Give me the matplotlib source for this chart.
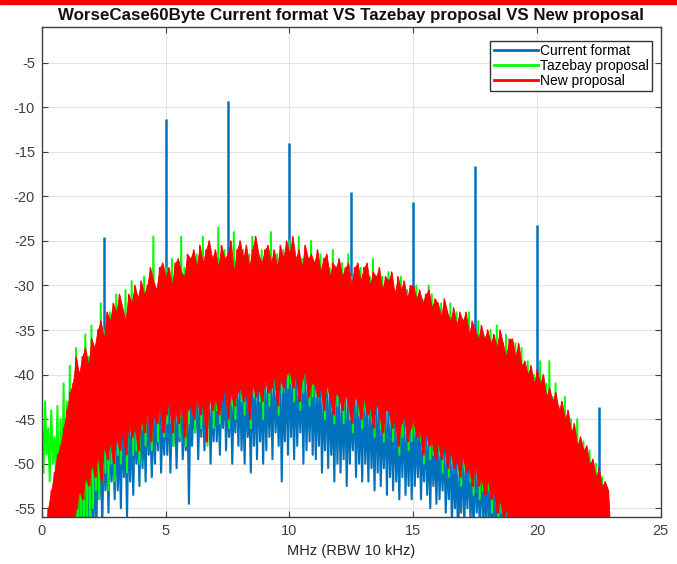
import numpy as np
import matplotlib
matplotlib.use("Agg")
import matplotlib.pyplot as plt
from matplotlib.patches import Rectangle

# spectrum, one value every 0.125 MHz (0 .. 23 MHz),
# one row per MHz. *_hi = spike tops, *_lo = spike bottoms (dB); -60 = off the axis
freq_mhz = np.arange(185) * 0.125

red_hi = [
    -60, -60, -55, -53, -51, -49, -48, -46,
    -44, -42, -41, -38, -40, -38, -37, -39,
    -36, -37, -35, -34, -36, -33, -34, -32,
    -33, -31, -32.5, -34, -31, -32, -30, -31.5,
    -29.5, -31, -30, -28, -29.5, -30.5, -28, -27.5,
    -29, -28, -30, -27.5, -27, -28.5, -29, -26.5,
    -27, -26, -28, -25.5, -27.5, -26, -25, -27,
    -26, -28, -25.5, -27, -26.5, -25, -28.5, -26,
    -25, -27, -25.5, -28, -26, -24.5, -26.5, -27.5,
    -26, -25.5, -27.5, -26, -28, -25.5, -27, -25,
    -26.5, -24.5, -27, -26, -28, -25.5, -27, -26.5,
    -27.5, -26, -28.5, -27, -26.5, -29, -27.5, -28,
    -27, -29, -28, -27.5, -30, -28, -27.5, -29.5,
    -28, -27.5, -30, -28.5, -29, -28, -30.5, -29,
    -29.5, -28.5, -31, -29, -30.5, -29.5, -31.5, -30,
    -30, -31.5, -30.5, -32, -31, -30.5, -32.5, -31.5,
    -32, -33.5, -31.5, -33, -34, -32.5, -34.5, -33,
    -34, -33, -35.5, -34, -35, -36, -34.5, -36,
    -35, -36.5, -35.5, -37, -35, -36.5, -38, -36,
    -36, -38, -36.5, -39, -38.5, -40, -39, -41,
    -39.5, -41, -40, -42.5, -41.5, -43, -42, -44,
    -43, -45, -44, -46.5, -45.5, -48, -47, -48.5,
    -48, -50, -49.5, -51.5, -50.5, -52.5, -52, -53,
    -60,
]
red_lo = [
    -60, -60, -60, -60, -60, -60, -60, -60,
    -60, -58, -57, -55, -53, -54, -51.5, -52.5,
    -50, -51.5, -49, -52, -48, -49.5, -47.5, -50,
    -47, -48.5, -46.5, -49, -45.5, -47, -46, -48.5,
    -45, -46.5, -44, -47.5, -44.5, -45.5, -43.5, -46.5,
    -44.5, -43, -46.5, -44, -45.5, -43, -47, -44,
    -43.5, -45, -42.5, -44.5, -43, -47.5, -42.5, -44,
    -42.5, -44.5, -43, -41.5, -45, -42, -43.5, -42,
    -41.5, -43, -42, -45, -41, -42.5, -41.5, -43,
    -40.5, -42, -41.5, -40, -43.5, -40.5, -41.5, -40,
    -39.5, -41.5, -40, -43, -40.5, -39.5, -42.5, -41,
    -41, -42.5, -41.5, -44, -41, -42.5, -44.5, -42,
    -42.5, -44, -42, -43.5, -45.5, -42.5, -43, -45,
    -42.5, -44.5, -43.5, -46, -43, -44.5, -46.5, -44,
    -44, -46, -45, -48, -45.5, -44.5, -47.5, -46,
    -45, -47, -46, -49, -46.5, -48, -47.5, -49.5,
    -47.5, -49.5, -48, -50.5, -48.5, -50.5, -49.5, -51.5,
    -49, -51, -50.5, -52.5, -50, -52.5, -51.5, -53.5,
    -51.5, -54, -53, -55.5, -54, -56, -55, -57.5,
    -56, -58, -60, -60, -60, -60, -60, -60,
    -60, -60, -60, -60, -60, -60, -60, -60,
    -60, -60, -60, -60, -60, -60, -60, -60,
    -60, -60, -60, -60, -60, -60, -60, -60,
    -60,
]

green_hi = [
    -45, -43, -46, -44, -47, -43.5, -45, -41,
    -43, -39, -42, -37, -40, -39, -35.5, -38,
    -34.5, -38, -36, -32, -35, -34.5, -33, -35,
    -31, -33, -34, -30.5, -32, -29.5, -31.5, -32,
    -31, -29, -31.5, -29.5, -24.5, -31, -29, -28.5,
    -28, -29.5, -27, -29, -28.5, -24.5, -28, -27.5,
    -28, -27.5, -26.5, -27, -24.5, -27, -26.5, -28,
    -27, -23.5, -27, -26, -27.5, -26.5, -24, -27,
    -26.5, -26, -27, -26.5, -24.5, -26, -28, -26,
    -27, -26.5, -24, -27.5, -26.5, -27, -26, -27.5,
    -25, -26.5, -28, -24.5, -27, -26.5, -28.5, -25,
    -28.5, -27.5, -26.5, -28.5, -27.5, -28, -26, -29,
    -28.5, -27.5, -29, -26.5, -29, -29.5, -28.5, -28,
    -29.5, -28.5, -29, -27, -30, -29.5, -29, -30.5,
    -28.5, -30, -30.5, -31, -29, -31, -30.5, -32,
    -31.5, -30, -31.5, -31.5, -33, -30, -31, -33,
    -33, -32, -33, -34.5, -32, -34, -33, -35,
    -35, -34.5, -33, -35.5, -36.5, -34, -36, -37,
    -36, -35, -37, -34.5, -36.5, -38, -35.5, -37.5,
    -37.5, -36.5, -38.5, -37, -40, -38.5, -41, -40,
    -40.5, -38.5, -41.5, -41, -38.5, -42.5, -41, -43.5,
    -44.5, -42.5, -45.5, -45, -47.5, -45, -49, -47.5,
    -49.5, -48.5, -51, -50, -52.5, -51.5, -54, -55,
    -60,
]
green_lo = [
    -51, -49, -52, -50, -51, -54, -52, -57,
    -60, -60, -60, -60, -58, -60, -57, -58,
    -55, -53, -54, -52, -51, -53, -50, -52,
    -49, -50, -47, -51, -46, -49, -48.5, -50,
    -46, -48, -45, -48.5, -44.5, -47.5, -44, -47,
    -45.5, -42, -48, -44, -47, -42.5, -48, -45.5,
    -42, -46.5, -43, -46, -42.5, -48, -41.5, -46,
    -44, -45.5, -42.5, -40, -46, -43.5, -45, -41,
    -43, -44.5, -40.5, -46, -42.5, -40, -43, -45,
    -41, -43.5, -39.5, -42, -44.5, -42, -40, -41.5,
    -41, -43, -39, -44, -42, -40.5, -43.5, -42.5,
    -42.5, -40, -43, -45, -42, -41, -45.5, -43.5,
    -41.5, -45.5, -42.5, -45, -46.5, -41.5, -44.5, -46,
    -44, -42, -45, -47, -42.5, -46, -47.5, -43,
    -45.5, -47.5, -43.5, -49, -47, -44, -48.5, -47.5,
    -46.5, -44.5, -47.5, -50, -45, -49.5, -49, -46,
    -49, -51, -46, -51.5, -50, -47.5, -51, -52.5,
    -50.5, -48, -52, -53.5, -49, -54, -53, -50.5,
    -53, -55.5, -51, -57, -55.5, -53, -56.5, -59,
    -58, -60, -60, -60, -60, -60, -60, -60,
    -60, -60, -60, -60, -60, -60, -60, -60,
    -60, -60, -60, -60, -60, -60, -60, -60,
    -60, -60, -60, -60, -60, -60, -60, -60,
    -60,
]

blue_hi = [
    -60, -60, -60, -60, -60, -60, -60, -60,
    -60, -58, -56, -54, -52, -53, -50.5, -51,
    -49, -50, -48, -49, -47, -48, -46.5, -47.5,
    -46, -47, -45.5, -46.5, -44.5, -45.5, -45, -46,
    -44, -45, -43, -45.5, -43.5, -44, -42.5, -44.5,
    -43.5, -42, -44.5, -43, -44, -42, -45, -43,
    -42.5, -43.5, -41.5, -43, -42, -45, -41.5, -43,
    -41.5, -42.5, -42, -40.5, -43, -41, -42.5, -41,
    -40.5, -42, -41, -43, -40, -41.5, -40.5, -42,
    -39.5, -41, -40.5, -39, -42, -39.5, -40.5, -39,
    -38.5, -40.5, -39, -41.5, -39.5, -38.5, -41, -40,
    -40, -41.5, -40.5, -42.5, -40, -41.5, -43, -41,
    -41.5, -43, -41, -42.5, -44, -41.5, -42, -43.5,
    -41.5, -43.5, -42.5, -44.5, -42, -43.5, -45, -43,
    -43, -45, -44, -46.5, -44.5, -43.5, -46, -45,
    -44, -46, -45, -47.5, -45.5, -47, -46.5, -48,
    -46.5, -48.5, -47, -49, -47.5, -49.5, -48.5, -50,
    -48, -50, -49.5, -51, -49, -51.5, -50.5, -52,
    -50.5, -53, -52, -54.5, -53, -55, -54, -56.5,
    -55, -57, -56, -58, -57, -60, -60, -60,
    -60, -60, -60, -60, -60, -60, -60, -60,
    -60, -60, -60, -60, -60, -60, -60, -60,
    -60, -60, -60, -60, -60, -60, -60, -60,
    -60,
]
blue_lo = [
    -60, -60, -60, -60, -60, -60, -60, -60,
    -60, -60, -60, -60, -60, -60, -58, -60,
    -56, -60, -54, -57, -53, -55.5, -52, -54,
    -53, -55, -51.5, -56, -52, -53.5, -50, -52.5,
    -50.5, -52, -49, -51.5, -50, -48.5, -51, -49,
    -49, -51, -48, -50.5, -47.5, -49.5, -48.5, -54.5,
    -48, -46.5, -49.5, -47, -48.5, -46, -50, -47.5,
    -47.5, -49, -46, -48.5, -47, -50, -46.5, -48,
    -48.5, -50, -47, -51, -48, -49.5, -47.5, -50,
    -48.5, -47, -49.5, -46.5, -48, -52, -47.5, -49,
    -47, -49.5, -48, -46.5, -50, -48.5, -47.5, -49,
    -49.5, -48, -51, -48.5, -50.5, -49, -52, -50,
    -51, -49.5, -52.5, -50, -48.5, -51.5, -50, -52,
    -50, -52, -50.5, -53, -51, -52.5, -50.5, -53.5,
    -51.5, -53, -52, -54, -51.5, -53.5, -52.5, -54,
    -52.5, -51.5, -54, -52, -53.5, -55, -52.5, -54.5,
    -54, -53, -55.5, -54, -57, -55, -60, -55.5,
    -57, -55, -56.5, -58, -55.5, -57, -56, -58.5,
    -56.5, -58, -57.5, -60, -58, -59, -60, -60,
    -60, -60, -60, -60, -60, -60, -60, -60,
    -60, -60, -60, -60, -60, -60, -60, -60,
    -60, -60, -60, -60, -60, -60, -60, -60,
    -60, -60, -60, -60, -60, -60, -60, -60,
    -60,
]

# discrete lines of the current format (multiples of 2.5 MHz)
peak_mhz = [2.5, 5, 7.5, 10, 12.5, 15, 17.5, 20, 22.5]
peak_db = [-24.6, -11.3, -9.3, -14.0, -19.5, -20.6, -16.6, -23.2, -43.6]

labels = ["Current format", "Tazebay proposal", "New proposal"]
colors = ["#0072BD", "#00FF00", "#FF0000"]

plt.rcParams["font.family"] = ["Liberation Sans", "DejaVu Sans"]
plt.rcParams["axes.unicode_minus"] = False

for arr in (red_hi, red_lo, green_hi, green_lo, blue_hi, blue_lo):
    assert len(arr) == len(freq_mhz), len(arr)


def spikes(ax, hi, lo, color, z, lw=1.1):
    # trace that runs top -> bottom -> top, so each sample reads as a vertical spike
    half = (freq_mhz[1] - freq_mhz[0]) / 2
    xs = np.column_stack([freq_mhz, freq_mhz + half]).ravel()
    ys = np.column_stack([hi, lo]).ravel()
    ax.plot(xs, ys, color=color, lw=lw, zorder=z)


fig = plt.figure(figsize=(6.77, 5.64), dpi=100)
ax = fig.add_axes([0.062, 0.083, 0.914, 0.869])

# thin red band at the very top of the slide
fig.patches.append(Rectangle((0, 1 - 4 / 564), 1, 4 / 564, transform=fig.transFigure,
                             color="#FF0000", zorder=0))

spikes(ax, blue_hi, blue_lo, colors[0], z=2, lw=1.5)
base = np.interp(peak_mhz, freq_mhz, blue_hi)
ax.vlines(peak_mhz, base, peak_db, color=colors[0], lw=1.8, zorder=2)
spikes(ax, green_hi, green_lo, colors[1], z=3, lw=1.4)
ax.fill_between(freq_mhz, red_lo, red_hi, color=colors[2], lw=0.6,
                edgecolor=colors[2], zorder=4)
spikes(ax, red_hi, red_lo, colors[2], z=4, lw=1.0)

ax.set_xlim(0, 25)
ax.set_ylim(-56, -1)
ax.set_xticks(np.arange(0, 26, 5))
ax.set_yticks(np.arange(-55, -4, 5))
ax.grid(True, color="#e3e3e3", lw=0.8)
ax.set_axisbelow(True)
ax.tick_params(direction="in", top=True, right=True, length=4, width=0.8,
               colors="#404040", labelsize=10.5, pad=5)
for sp in ax.spines.values():
    sp.set_color("#404040")
    sp.set_linewidth(1.0)
    sp.set_zorder(6)

ax.set_title("WorseCase60Byte Current format VS Tazebay proposal VS New proposal",
             fontsize=12.2, fontweight="bold", color="#111111", pad=5)
ax.set_xlabel("MHz (RBW 10 kHz)", fontsize=10.5, color="#262626", labelpad=4)

handles = [plt.Line2D([], [], color=c, lw=2) for c in colors]
leg = ax.legend(handles, labels, loc="upper right", bbox_to_anchor=(0.986, 0.972),
                fontsize=10, frameon=True, fancybox=False, edgecolor="#333333",
                framealpha=1, borderpad=0.25, labelspacing=0.05, handlelength=3.2,
                handletextpad=0.1, borderaxespad=0)
leg.set_zorder(7)

fig.savefig("out.png", dpi=100)
